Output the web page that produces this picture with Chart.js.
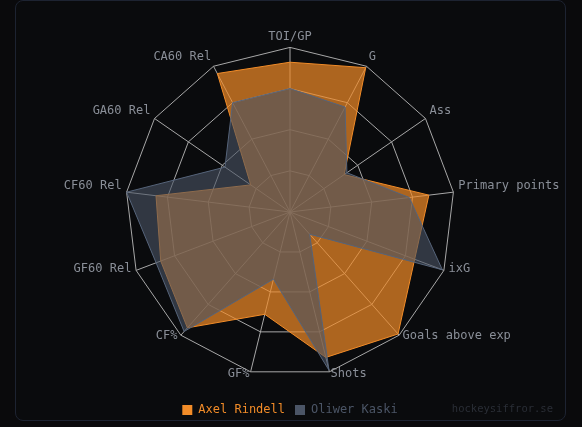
<!DOCTYPE html>
<html>
<head>
<meta charset="utf-8">
<script src="https://cdn.jsdelivr.net/npm/chart.js@4.4.1/dist/chart.umd.min.js"></script>
<style>
    html, body {
        margin: 0;
        padding: 0;
        background: #0a0a0c;
    }
    .card {
        position: absolute;
        left: 15px;
        top: 0px;
        width: 549px;
        height: 419px;
        border: 1px solid #1d2331;
        border-radius: 8px;
        background: #0a0b0d;
    }
    .wrap {
        position: absolute;
        left: 0;
        top: 0;
        width: 582px;
        height: 427px;
    }
    .credit {
        position: absolute;
        right: 29px;
        top: 402px;
        font: 10.5px "DejaVu Sans Mono", monospace;
        color: #2a2e36;
    }
</style>
</head>
<body>
<div class="card"></div>
<div class="wrap"><canvas id="radarChart" width="582" height="427"></canvas></div>
<div class="credit">hockeysiffror.se</div>
<script>
const labels = ['TOI/GP', 'G', 'Ass', 'Primary points', 'ixG', 'Goals above exp', 'Shots',
    'GF%', 'CF%', 'GF60 Rel', 'CF60 Rel', 'GA60 Rel', 'CA60 Rel'];
const axelRindell = [91, 99, 40, 85, 81, 99, 91, 64, 94, 84, 82, 29, 95];
const oliwerKaski = [75, 72, 42, 73, 99, 18, 99, 42, 97, 87, 100, 48, 75];

const orange = '#f28c28';
const slate = '#4b5566';

// labels sit a bit higher than chart.js puts them (lower half especially)
const pointLabelShift = {
    id: 'pointLabelShift',
    afterUpdate(chart) {
        const scale = chart.scales.r;
        const items = scale._pointLabelItems || [];
        items.forEach((item, i) => {
            const deg = scale.getIndexAngle(i) * 180 / Math.PI;
            const dy = (deg > 90 && deg < 270) ? -10 : 2;
            item.y += dy;
            item.top += dy;
            item.bottom += dy;
        });
    }
};

const ctx = document.getElementById('radarChart').getContext('2d');
new Chart(ctx, {
    type: 'radar',
    data: {
        labels: labels,
        datasets: [
            // first dataset is drawn on top, so the grey one goes first
            {
                label: 'Oliwer Kaski',
                data: oliwerKaski,
                backgroundColor: 'rgba(75, 85, 102, 0.6)',
                borderColor: '#56647a',
                borderWidth: 1,
                pointRadius: 0
            },
            {
                label: 'Axel Rindell',
                data: axelRindell,
                backgroundColor: 'rgba(242, 140, 40, 0.7)',
                borderColor: orange,
                borderWidth: 1,
                pointRadius: 0
            }
        ]
    },
    options: {
        responsive: false,
        animation: false,
        layout: {
            padding: { top: 25, bottom: 1, left: 0, right: 2 }
        },
        elements: {
            line: { tension: 0 }
        },
        scales: {
            r: {
                min: 0,
                max: 100,
                ticks: { display: false, stepSize: 25 },
                grid: { color: '#a8a8a8', lineWidth: 1 },
                angleLines: { color: '#a8a8a8', lineWidth: 1 },
                pointLabels: {
                    color: '#8a8f98',
                    padding: 5,
                    font: { family: '"DejaVu Sans Mono", monospace', size: 12 }
                }
            }
        },
        plugins: {
            tooltip: { enabled: false },
            legend: {
                position: 'bottom',
                reverse: true,
                labels: {
                    boxWidth: 10,
                    boxHeight: 10,
                    padding: 10,
                    font: { family: '"DejaVu Sans Mono", monospace', size: 12 },
                    generateLabels: (chart) => {
                        const colors = [slate, orange];
                        return chart.data.datasets.map((ds, i) => ({
                            text: ds.label,
                            fillStyle: colors[i],
                            strokeStyle: colors[i],
                            fontColor: colors[i],
                            lineWidth: 0,
                            hidden: false,
                            datasetIndex: i
                        }));
                    }
                }
            }
        }
    },
    plugins: [pointLabelShift]
});
</script>
</body>
</html>
